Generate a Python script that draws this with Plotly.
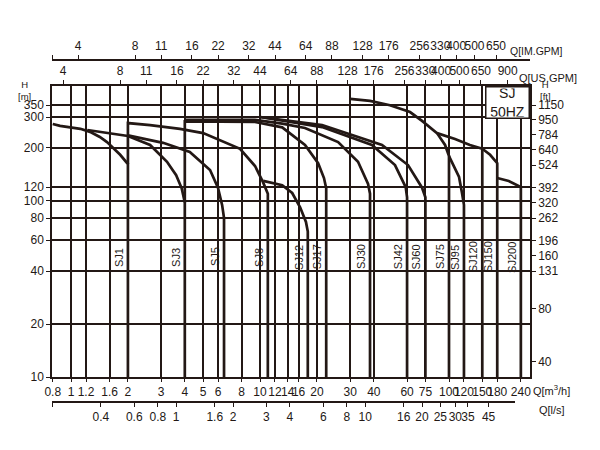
import numpy as np
import plotly.graph_objects as go

# ---- dados (Q em m³/h, H em m) ----
q_ticks = [0.8, 1, 1.2, 1.6, 2, 3, 4, 5, 6, 8, 10, 12, 14, 16, 20, 30, 40, 60, 75, 100, 120, 150, 180, 240]
us_gpm_ticks = [4, 8, 11, 16, 22, 32, 44, 64, 88, 128, 176, 256, 330, 400, 500, 650, 900]
im_gpm_ticks = [4, 8, 11, 16, 22, 32, 44, 64, 88, 128, 176, 256, 330, 400, 500, 650]
ls_ticks = [0.4, 0.6, 0.8, 1, 1.6, 2, 3, 4, 6, 8, 10, 16, 20, 25, 30, 35, 45]
h_ticks = [10, 20, 40, 60, 80, 100, 120, 200, 300, 350]
ft_ticks = [40, 80, 131, 160, 196, 262, 320, 392, 524, 640, 784, 950, 1150]

sj1_q = [0.8, 0.875, 1.12, 1.26, 1.42, 1.55, 1.82, 2.0, 2.0]
sj1_h = [274, 267, 257, 247, 231, 216, 183, 162, 10]

sj3_q = [1.22, 1.42, 2.0, 2.62, 3.22, 3.6, 3.85, 4.0, 4.0]
sj3_h = [253, 247, 234, 208, 167, 140, 118, 98, 10]

sj5_q = [2.0, 2.46, 3.07, 4.25, 5.44, 5.99, 6.3, 6.45, 6.45]
sj5_h = [236, 225, 214, 190, 150, 119, 95, 80, 10]

sj8_q = [2.0, 2.0, 2.62, 3.77, 5.0, 6.14, 7.84, 9.41, 10.37, 11.0, 11.0]
sj8_h = [162, 277, 270, 257, 243, 222, 198, 158, 128, 110, 10]

sj12_q = [10.4, 13.1, 14.8, 16.3, 17.5, 17.9, 17.9]
sj12_h = [130, 123, 111, 92, 76, 67, 10]

sj17_q = [4.0, 4.0, 6.14, 9.41, 13.1, 17.3, 20.3, 21.8, 22.4, 22.4]
sj17_h = [98, 283, 282, 281, 262, 208, 164, 135, 118, 10]

sj30_q = [4.0, 6.14, 9.41, 13.1, 17.3, 25.9, 33.0, 37.3, 38.2, 38.2]
sj30_h = [289, 290, 289, 275, 260, 216, 167, 125, 110, 10]

sj42_q = [10, 21.3, 39.1, 51.8, 59, 60, 60]
sj42_h = [300, 263, 208, 160, 120, 105, 10]

sj60_q = [10, 21.3, 44.2, 60.7, 72, 75, 75]
sj60_h = [300, 270, 208, 160, 119, 105, 10]

sj75_q = [30, 38.2, 48.7, 62.2, 72, 86.4, 95.3, 100, 100]
sj75_h = [380, 370, 350, 320, 285, 243, 208, 180, 10]

sj95_q = [100, 107.6, 113, 117, 120, 120]
sj95_h = [180, 154, 137, 112, 95, 10]

sj120_q = [86.4, 107.6, 129, 150, 150]
sj120_h = [243, 225, 208, 198, 10]

sj150_q = [150, 165, 180, 180]
sj150_h = [198, 183, 164, 10]

sj200_q = [180, 207, 240, 240]
sj200_h = [135, 130, 120, 10]

curvas = [
    ("SJ1", sj1_q, sj1_h), ("SJ3", sj3_q, sj3_h), ("SJ5", sj5_q, sj5_h),
    ("SJ8", sj8_q, sj8_h), ("SJ12", sj12_q, sj12_h), ("SJ17", sj17_q, sj17_h),
    ("SJ30", sj30_q, sj30_h), ("SJ42", sj42_q, sj42_h), ("SJ60", sj60_q, sj60_h),
    ("SJ75", sj75_q, sj75_h), ("SJ95", sj95_q, sj95_h), ("SJ120", sj120_q, sj120_h),
    ("SJ150", sj150_q, sj150_h), ("SJ200", sj200_q, sj200_h),
]

# ---- escalas ----
INK = "#231815"
FONT = "Liberation Sans, Arial, sans-serif"
Q_MIN, Q_MAX = 0.793, 268.3
H_MIN, H_MAX = 10, 450
US_GPM = 4.403      # m3/h -> US gpm
IM_GPM = 3.666      # m3/h -> IM gpm
LS = 1 / 3.6        # m3/h -> l/s
FT = 3.2808         # m -> ft
LS_FRAC = 0.9686    # o eixo l/s termina antes da borda

lq0, lq1 = np.log10(Q_MIN), np.log10(Q_MAX)
Y_DOM = [25 / 342, 316 / 342]

fig = go.Figure()

for nome, q, h in curvas:
    fig.add_trace(go.Scatter(x=q, y=h, mode='lines', name=nome,
                             line=dict(color=INK, width=2.7),
                             hoverinfo='skip', showlegend=False))

# traces vazios para criar os eixos extras
fig.add_trace(go.Scatter(x=[], y=[], xaxis='x2', yaxis='y', showlegend=False))
fig.add_trace(go.Scatter(x=[], y=[], xaxis='x3', yaxis='y', showlegend=False))
fig.add_trace(go.Scatter(x=[], y=[], xaxis='x4', yaxis='y', showlegend=False))
fig.add_trace(go.Scatter(x=[], y=[], xaxis='x', yaxis='y2', showlegend=False))

tick_font = dict(family=FONT, size=12, color=INK)
comum = dict(type='log', showline=True, linecolor=INK, linewidth=1.5,
             ticks='outside', tickcolor=INK, tickwidth=1.2, tickfont=tick_font,
             zeroline=False, automargin=False, tickmode='array', tickangle=0)

# a página tem 8px de margem no body: margens já descontam isso
fig.update_layout(
    width=600, height=450,
    margin=dict(l=44, r=78, t=52, b=56),
    plot_bgcolor='rgba(0,0,0,0)', paper_bgcolor='white',
    xaxis=dict(comum, range=[lq0, lq1], anchor='y', side='bottom', ticklen=3,
               tickvals=q_ticks, ticktext=[str(v) for v in q_ticks],
               showgrid=True, gridcolor=INK, gridwidth=1.5),
    xaxis2=dict(comum, overlaying='x', anchor='y', side='top', ticklen=4,
                range=[lq0 + np.log10(US_GPM), lq1 + np.log10(US_GPM)],
                tickvals=us_gpm_ticks, ticktext=[str(v) for v in us_gpm_ticks],
                showgrid=False),
    xaxis3=dict(comum, overlaying='x', anchor='free', position=1, side='top', ticklen=4,
                range=[lq0 + np.log10(IM_GPM), lq1 + np.log10(IM_GPM)],
                tickvals=[Q_MIN * IM_GPM * 1.002] + im_gpm_ticks,
                ticktext=[''] + [str(v) for v in im_gpm_ticks],
                showgrid=False),
    xaxis4=dict(comum, domain=[0, LS_FRAC], anchor='free', position=0, side='bottom', ticklen=4,
                range=[lq0 + np.log10(LS), lq0 + np.log10(LS) + LS_FRAC * (lq1 - lq0)],
                tickvals=[Q_MIN * LS * 1.002] + ls_ticks,
                ticktext=[''] + [str(v) for v in ls_ticks],
                showgrid=False),
    yaxis=dict(comum, domain=Y_DOM, anchor='x', side='left', ticklen=4,
               range=[np.log10(H_MIN), np.log10(H_MAX)],
               tickvals=h_ticks, ticktext=[str(v) for v in h_ticks],
               showgrid=True, gridcolor=INK, gridwidth=1.5),
    yaxis2=dict(comum, overlaying='y', anchor='x', side='right', ticklen=4,
                range=[np.log10(H_MIN * FT), np.log10(H_MAX * FT)],
                tickvals=ft_ticks, ticktext=[str(v) for v in ft_ticks],
                showgrid=False),
)

# rótulos das bombas (verticais, junto à linha de queda)
for nome, q, h in curvas:
    fig.add_annotation(x=np.log10(q[-1]), y=np.log10(48), xref='x', yref='y',
                       text=nome, textangle=-90, showarrow=False,
                       xanchor='right', yanchor='middle', xshift=-1,
                       font=dict(family=FONT, size=11, color=INK))

def py(p):
    # pixel vertical da imagem -> coordenada paper
    return (402 - p) / 342

def px(p):
    return (p - 52) / 478

texto = dict(family=FONT, size=11, color=INK)
fig.add_annotation(x=px(531), y=py(390), xref='paper', yref='paper', xanchor='left', yanchor='middle',
                   text="Q[m<sup>3</sup>/h]", showarrow=False, font=texto)
fig.add_annotation(x=px(537), y=py(410), xref='paper', yref='paper', xanchor='left', yanchor='middle',
                   text="Q[l/s]", showarrow=False, font=texto)
fig.add_annotation(x=px(517), y=py(78), xref='paper', yref='paper', xanchor='left', yanchor='middle',
                   text="Q[US.GPM]", showarrow=False, font=texto)
fig.add_annotation(x=px(508), y=py(51), xref='paper', yref='paper', xanchor='left', yanchor='middle',
                   text="Q[IM.GPM]", showarrow=False, font=dict(family=FONT, size=10.5, color=INK))
fig.add_annotation(x=px(24), y=py(90), xref='paper', yref='paper', xanchor='center', yanchor='middle',
                   text="H<br>[m]", showarrow=False, font=dict(family=FONT, size=9.5, color=INK))
fig.add_annotation(x=px(545), y=py(90), xref='paper', yref='paper', xanchor='center', yanchor='middle',
                   text="H<br>[ft]", showarrow=False, font=dict(family=FONT, size=9.5, color=INK))

# caixa "SJ 50HZ"
fig.add_annotation(x=1, y=Y_DOM[1], xref='paper', yref='paper', xanchor='right', yanchor='top',
                   text="SJ<br>50HZ", showarrow=False, align='center',
                   width=40, height=28, borderpad=1,
                   bgcolor='white', bordercolor=INK, borderwidth=1.5,
                   font=dict(family=FONT, size=14, color=INK))

fig.write_html("out.html")
